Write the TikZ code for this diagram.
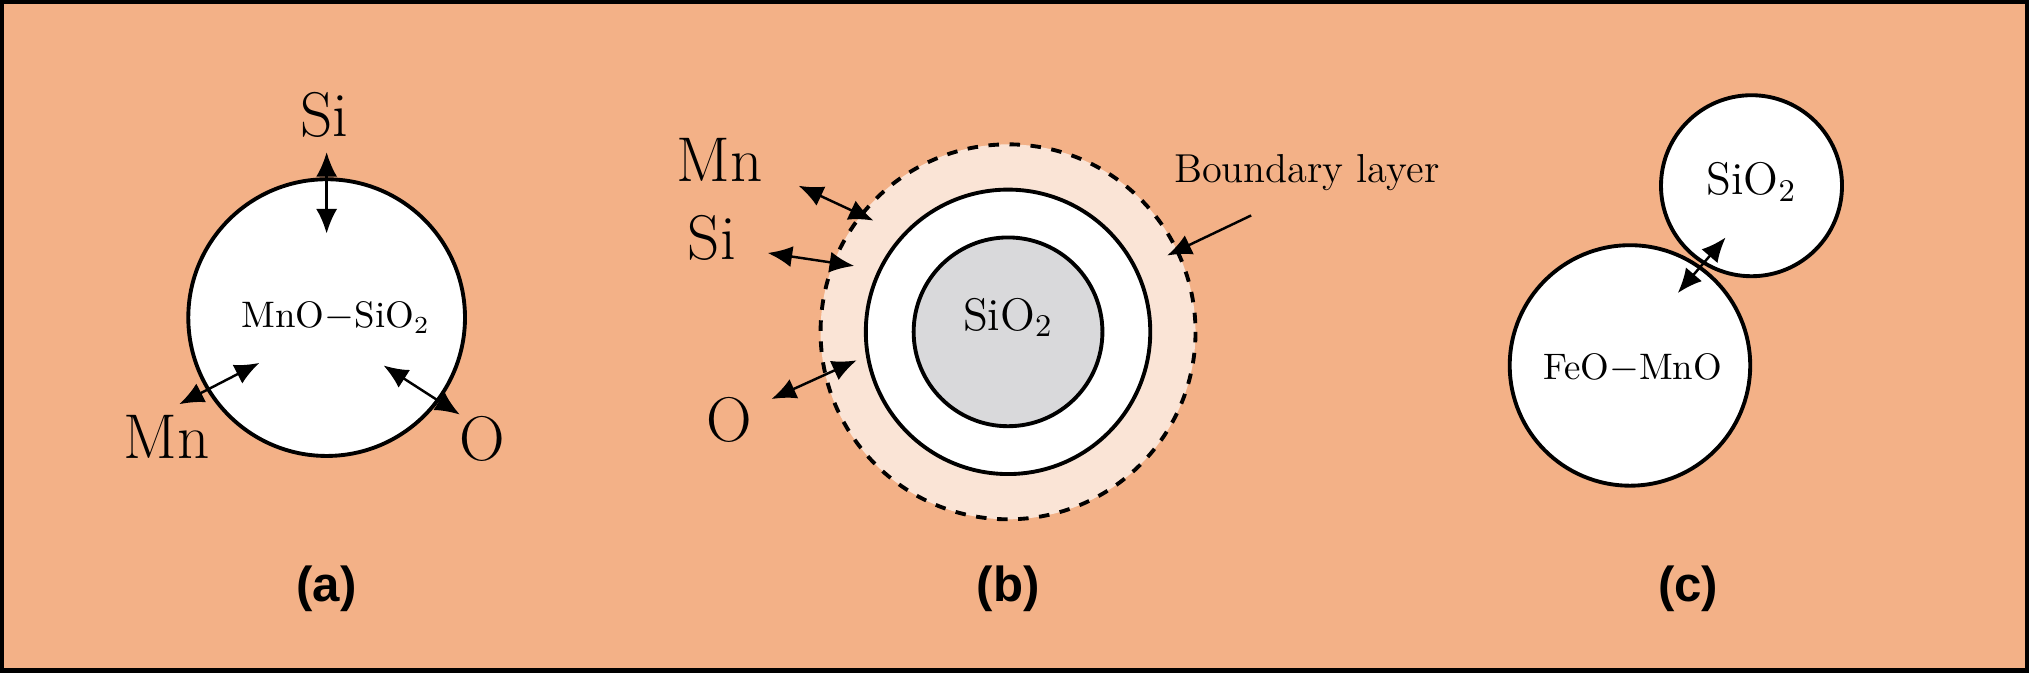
\documentclass[tikz,border=0pt]{standalone}
\usepackage{fontspec}
\newfontfamily\labfont{Liberation Sans}
\usetikzlibrary{arrows.meta}
\definecolor{bg}{HTML}{F3B187}
\definecolor{bl}{HTML}{FAE4D6}
\definecolor{gr}{HTML}{D9D9DB}
\begin{document}
\begin{tikzpicture}[x=0.01294cm,y=-0.01294cm,
  ball/.style={draw=black,line width=1.1pt,fill=white},
  dbl/.style={{Latex[length=7pt,width=6pt]}-{Latex[length=7pt,width=6pt]},line width=0.7pt},
  big/.style={font=\fontsize{18}{22}\selectfont},
  sm/.style={font=\fontsize{10.5}{12}\selectfont},
  lab/.style={font=\labfont\bfseries\fontsize{14}{16}\selectfont}]
\fill[bg,draw=black,line width=1.2pt] (1,1) rectangle (1567,518);
\useasboundingbox (0,0) rectangle (1568,519);
% (a)
\draw[ball] (252,245) circle (107);
\node[sm] (At) at (259,245) {MnO$-$SiO$_2$};
\node[big] (Si) at (250,88) {Si};
\node[big] (Mn) at (128,337) {Mn};
\node[big] (O) at (372,339) {O};
\coordinate (a1) at (252,117); \coordinate (a2) at (252,180);
\coordinate (b1) at (138,312); \coordinate (b2) at (200,280);
\coordinate (c1) at (296,282); \coordinate (c2) at (355,320);
\draw[dbl] (a1)--(a2); \draw[dbl] (b1)--(b2); \draw[dbl] (c1)--(c2);
% (b)
\draw[fill=bl,dashed,line width=1.1pt] (779,256) circle (145);
\draw[fill=white,line width=1.1pt] (779,256) circle (110);
\draw[fill=gr,line width=1.1pt] (779,256) circle (73);
\node[font=\fontsize{13}{15}\selectfont] (Bt) at (779,245) {SiO$_2$};
\node[big] (BMn) at (556,123) {Mn};
\node[big] (BSi) at (550,183) {Si};
\node[big] (BO) at (563,324) {O};
\coordinate (d1) at (617,143); \coordinate (d2) at (675,170);
\coordinate (e1) at (593,195); \coordinate (e2) at (660,205);
\coordinate (f1) at (596,308); \coordinate (f2) at (662,278);
\draw[dbl] (d1)--(d2); \draw[dbl] (e1)--(e2); \draw[dbl] (f1)--(f2);
\node[font=\fontsize{11.5}{14}\selectfont] (BL) at (1010,133) {Boundary layer};
\coordinate (g1) at (967,166); \coordinate (g2) at (902,197);
\draw[-{Latex[length=7pt,width=6pt]},line width=0.7pt] (g1)--(g2);
% (c)
\draw[ball] (1354,143) circle (70);
\draw[ball] (1260,282) circle (93);
\node[font=\fontsize{13}{15}\selectfont] (Cs) at (1354,140) {SiO$_2$};
\node[font=\fontsize{10.5}{12}\selectfont] (Cf) at (1262,284) {FeO$-$MnO};
\coordinate (h1) at (1334,183); \coordinate (h2) at (1297,226);
\draw[dbl] (h1)--(h2);
% labels
\node[lab] (la) at (252,455) {(a)};
\node[lab] (lb) at (779,455) {(b)};
\node[lab] (lc) at (1305,455) {(c)};
\end{tikzpicture}
\end{document}
